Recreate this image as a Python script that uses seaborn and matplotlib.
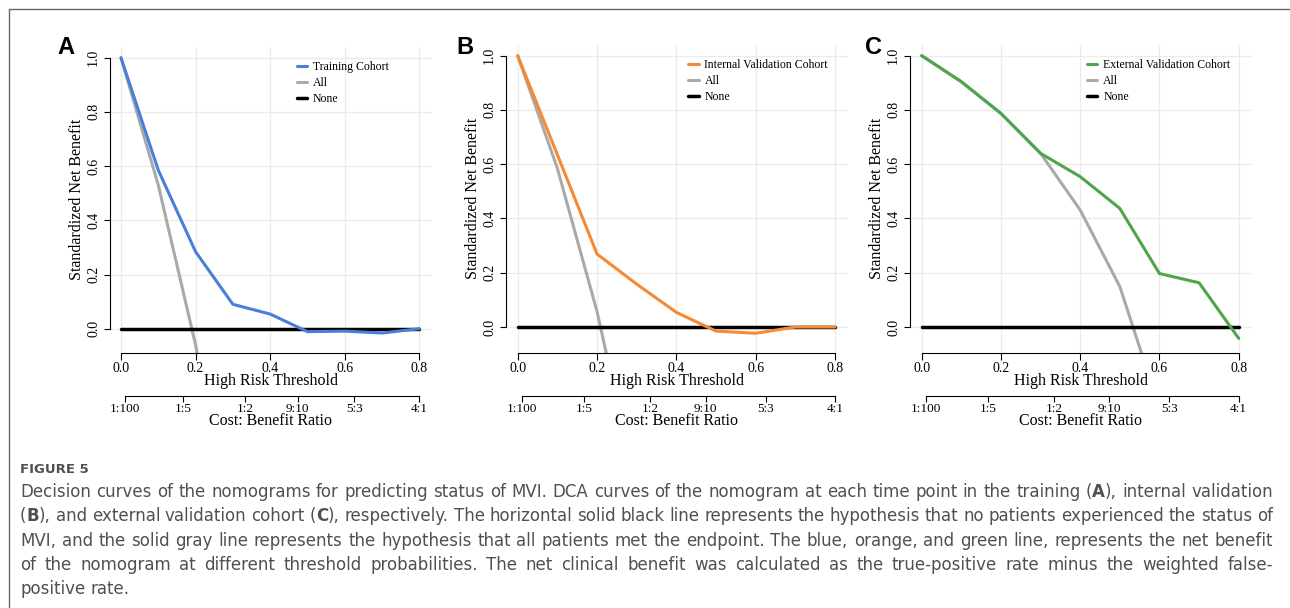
import numpy as np
import pandas as pd
import matplotlib.pyplot as plt
from matplotlib.lines import Line2D
import seaborn as sns

# Valores (DCA, net benefit padronizado)
thresholds = [0.0, 0.1, 0.2, 0.3, 0.4, 0.5, 0.6, 0.7, 0.8]

training = [1.0, 0.585, 0.284, 0.090, 0.054, -0.011, -0.009, -0.016, 0.0]
internal = [1.0, 0.635, 0.269, 0.158, 0.054, -0.015, -0.023, 0.0, 0.0]
external = [1.0, 0.904, 0.787, 0.640, 0.554, 0.437, 0.197, 0.163, -0.042]

# curvas "All" (cortadas pelo limite inferior do grafico)
all_x_a = [0.0, 0.1, 0.2, 0.3]
all_a = [1.0, 0.53, -0.06, -0.80]
all_x_b = [0.0, 0.1, 0.2, 0.3]
all_b = [1.0, 0.585, 0.057, -0.60]
all_x_c = [0.0, 0.1, 0.2, 0.3, 0.4, 0.5, 0.6]
all_c = [1.0, 0.904, 0.787, 0.640, 0.431, 0.149, -0.30]

none_x = [0.0, 0.8]
none_y = [0.0, 0.0]

x_ticks = [0.0, 0.2, 0.4, 0.6, 0.8]
y_ticks = [0.0, 0.2, 0.4, 0.6, 0.8, 1.0]
cb_labels = ['1:100', '1:5', '1:2', '9:10', '5:3', '4:1']

cohort_names = ['Training Cohort', 'Internal Validation Cohort', 'External Validation Cohort']
cohort_colors = ['#4A7FD9', '#F58A33', '#4EA54B']
panel_letters = ['A', 'B', 'C']

caption_lines = [
    "Decision curves of the nomograms for predicting status of MVI. DCA curves of the nomogram at each time point in the training (*A*), internal validation",
    "(*B*), and external validation cohort (*C*), respectively. The horizontal solid black line represents the hypothesis that no patients experienced the status of",
    "MVI, and the solid gray line represents the hypothesis that all patients met the endpoint. The blue, orange, and green line, represents the net benefit",
    "of the nomogram at different threshold probabilities. The net clinical benefit was calculated as the true-positive rate minus the weighted false-",
    "positive rate.",
]

W, H = 1290, 608

sns.set_theme(style='whitegrid')
plt.rcParams['font.family'] = ['Liberation Serif', 'DejaVu Serif']
plt.rcParams['text.color'] = 'black'
plt.rcParams['axes.labelcolor'] = 'black'
plt.rcParams['xtick.color'] = 'black'
plt.rcParams['ytick.color'] = 'black'

fig = plt.figure(figsize=(W / 100, H / 100), dpi=100)

# caixas dos paineis em pixels: esquerda, direita, topo, base
boxes = [(109.8, 431.7, 46.9, 352.7), (505.8, 848.1, 44.8, 352.7), (909.8, 1251.8, 44.8, 352.7)]
ylims = [(-0.0886, 1.04), (-0.0947, 1.04), (-0.0947, 1.04)]
legend_x = [0.58, 0.532, 0.517]
letter_x = [66, 465, 873]

models = [training, internal, external]
all_curves = [(all_x_a, all_a), (all_x_b, all_b), (all_x_c, all_c)]

for i in range(3):
    l, r, t, b = boxes[i]
    ax = fig.add_axes([l / W, 1 - b / H, (r - l) / W, (b - t) / H])
    ax.set_xlim(-0.03, 0.833)
    ax.set_ylim(*ylims[i])

    ax_x, ax_y = all_curves[i]
    sns.lineplot(x=ax_x, y=ax_y, ax=ax, color='#A9A9A9', lw=2.2, label='All')
    sns.lineplot(x=none_x, y=none_y, ax=ax, color='black', lw=2.5, label='None')
    sns.lineplot(x=thresholds, y=models[i], ax=ax, color=cohort_colors[i], lw=2.2,
                 label=cohort_names[i])

    ax.grid(True, color='#EBEBEB', lw=1.0)
    ax.set_axisbelow(True)
    for s in ['top', 'right']:
        ax.spines[s].set_visible(False)
    for s in ['left', 'bottom']:
        ax.spines[s].set_color('black')
        ax.spines[s].set_linewidth(0.8)
    ax.spines['left'].set_bounds(0, 1)
    ax.spines['bottom'].set_bounds(0, 0.8)

    ax.set_xticks(x_ticks)
    ax.set_xticklabels([f'{v:.1f}' for v in x_ticks], fontsize=10)
    ax.set_yticks(y_ticks)
    ax.set_yticklabels([f'{v:.1f}' for v in y_ticks], fontsize=10, rotation=90, va='center')
    ax.tick_params(axis='x', bottom=True, direction='out', length=5, width=0.8, pad=1.5)
    ax.tick_params(axis='y', left=True, direction='out', length=4, width=0.8, pad=3)
    ax.set_xlabel('High Risk Threshold', fontsize=11.5, labelpad=-1)
    ax.set_ylabel('Standardized Net Benefit', fontsize=11.5, labelpad=1.5)

    h, lab = ax.get_legend_handles_labels()
    order = [2, 0, 1]
    ax.legend([h[k] for k in order], [lab[k] for k in order], loc='upper left',
              bbox_to_anchor=(legend_x[i], 0.953), frameon=False, fontsize=8.5,
              handlelength=0.9, handletextpad=0.5, labelspacing=0.32,
              borderpad=0, borderaxespad=0)

    # segundo eixo: razao custo:beneficio
    ax2 = ax.twiny()
    ax2.set_xlim(ax.get_xlim())
    ax2.grid(False)
    cb_pos = []
    for s in cb_labels:
        a, c = s.split(':')
        cb_pos.append(float(a) / (float(a) + float(c)))
    ax2.xaxis.set_ticks_position('bottom')
    ax2.xaxis.set_label_position('bottom')
    ax2.spines['bottom'].set_position(('outward', 31))
    for s in ['top', 'right', 'left']:
        ax2.spines[s].set_visible(False)
    ax2.spines['bottom'].set_color('black')
    ax2.spines['bottom'].set_linewidth(0.8)
    ax2.spines['bottom'].set_bounds(cb_pos[0], cb_pos[-1])
    ax2.set_xticks(cb_pos)
    ax2.set_xticklabels(cb_labels, fontsize=9.5)
    ax2.tick_params(axis='x', bottom=True, top=False, direction='out', length=4, width=0.8, pad=1.5)
    ax2.set_xlabel('Cost: Benefit Ratio', fontsize=11.5, labelpad=-1.5)

    fig.text(letter_x[i] / W, 1 - 48 / H, panel_letters[i], fontsize=17, fontweight='bold',
             family='Liberation Sans', ha='center', va='center')

# moldura
fig.add_artist(Line2D([9.3 / W, 1], [1 - 9.3 / H, 1 - 9.3 / H], transform=fig.transFigure,
                      color='#666666', lw=1.0))
fig.add_artist(Line2D([9.3 / W, 9.3 / W], [0, 1 - 9.3 / H], transform=fig.transFigure,
                      color='#666666', lw=1.0))

# legenda da figura
cap_color = '#505050'
cap_font = 'DejaVu Sans'
cap_left, cap_right = 20, 1273
fig.text(cap_left / W, 1 - 469.3 / H, 'FIGURE 5', fontsize=9.5, fontweight='bold',
         family=cap_font, color=cap_color, va='center')

renderer = fig.canvas.get_renderer()

# tamanho da fonte ajustado para a primeira linha caber na largura
probe = fig.text(0, 0, caption_lines[0].replace('*', ''), fontsize=10, family=cap_font)
cap_size = 10 * (cap_right - cap_left) / probe.get_window_extent(renderer).width
probe.remove()

line_y = [491.7, 516.2, 540.5, 564.5, 588.5]
for k, line in enumerate(caption_lines):
    groups = []
    for w in line.split(' '):
        segs = []
        for j, s in enumerate(w.split('*')):
            if s:
                t = fig.text(0, 1 - line_y[k] / H, s, fontsize=cap_size, family=cap_font,
                             color=cap_color, fontweight='bold' if j % 2 else 'normal',
                             va='center', ha='left')
                segs.append((t, t.get_window_extent(renderer).width))
        groups.append(segs)
    widths = [sum(sw for _, sw in g) for g in groups]
    if k < len(caption_lines) - 1:
        gap = (cap_right - cap_left - sum(widths)) / (len(groups) - 1)
    else:
        gap = cap_size * 0.45
    x = cap_left
    for g, wd in zip(groups, widths):
        xx = x
        for t, sw in g:
            t.set_x(xx / W)
            xx += sw
        x += wd + gap

fig.savefig('out.png', dpi=100)
